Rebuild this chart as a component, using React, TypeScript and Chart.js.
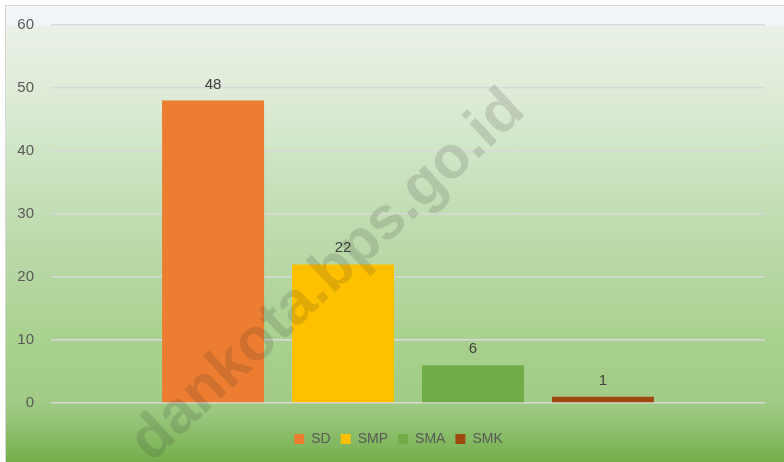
import React, { useEffect, useRef } from "react";
import { Chart, registerables } from "chart.js";

Chart.register(...registerables);

const CATEGORIES = [""];
const SERIES_NAMES = ["SD", "SMP", "SMA", "SMK"];
const SERIES_VALUES = [[48], [22], [6], [1]];
const SERIES_COLORS = ["#ED7D31", "#FFC000", "#70AD47", "#9E480E"];
const Y_MIN = 0;
const Y_MAX = 60;
const Y_STEP = 10;
const WATERMARK = "dankota.bps.go.id";

const FONT = "'Liberation Sans', Arial, sans-serif";

const dataLabelPlugin = {
  id: "dataLabels",
  afterDatasetsDraw(chart: any) {
    const ctx = chart.ctx;
    ctx.save();
    ctx.font = `15px ${FONT}`;
    ctx.fillStyle = "#404040";
    ctx.textAlign = "center";
    ctx.textBaseline = "alphabetic";
    chart.data.datasets.forEach((ds: any, i: number) => {
      const meta = chart.getDatasetMeta(i);
      meta.data.forEach((bar: any, j: number) => {
        ctx.fillText(String(ds.data[j]), bar.x, bar.y - 12);
      });
    });
    ctx.restore();
  },
};

const watermarkPlugin = {
  id: "watermark",
  afterDraw(chart: any) {
    const ctx = chart.ctx;
    ctx.save();
    ctx.translate(322, 270);
    ctx.rotate((-43 * Math.PI) / 180);
    ctx.font = `bold 60px ${FONT}`;
    ctx.fillStyle = "rgba(40,40,40,0.15)";
    ctx.textAlign = "center";
    ctx.textBaseline = "middle";
    ctx.fillText(WATERMARK, 0, 0);
    ctx.restore();
  },
};

const legendShiftPlugin = {
  id: "legendShift",
  afterLayout(chart: any) {
    const lg = chart.legend;
    if (lg) {
      lg.left += 13;
      lg.right += 13;
    }
  },
};

export default function App() {
  const ref = useRef<HTMLCanvasElement>(null);

  useEffect(() => {
    const canvas = ref.current;
    if (!canvas) return;
    const chart = new Chart(canvas, {
      type: "bar",
      data: {
        labels: CATEGORIES,
        datasets: SERIES_NAMES.map((name, i) => ({
          label: name,
          data: SERIES_VALUES[i],
          backgroundColor: SERIES_COLORS[i],
          borderWidth: 0,
          categoryPercentage: 0.728,
          barPercentage: 0.785,
        })),
      },
      options: {
        responsive: false,
        animation: false,
        layout: { padding: { top: 19, right: 19, left: 0, bottom: 6 } },
        scales: {
          x: {
            display: true,
            afterFit: (s: any) => {
              s.height = 19;
            },
            ticks: { display: false },
            grid: { display: false, drawTicks: false },
            border: { display: false },
          },
          y: {
            min: Y_MIN,
            max: Y_MAX,
            afterFit: (s: any) => {
              s.width = 45;
              s.paddingTop = 0;
              s.paddingBottom = 0;
            },
            ticks: {
              stepSize: Y_STEP,
              padding: 17,
              color: "#595959",
              font: { family: FONT, size: 15 },
            },
            grid: {
              color: "#d9d9d9",
              lineWidth: 1.5,
              drawTicks: false,
            },
            border: { display: false },
          },
        },
        plugins: {
          legend: {
            position: "bottom",
            labels: {
              boxWidth: 10,
              boxHeight: 10,
              padding: 10,
              color: "#595959",
              font: { family: FONT, size: 14 },
            },
          },
          tooltip: { enabled: false },
        },
      },
      plugins: [dataLabelPlugin, watermarkPlugin, legendShiftPlugin],
    });
    return () => chart.destroy();
  }, []);

  return (
    <div
      style={{
        position: "fixed",
        left: 5,
        top: 5,
        right: 0,
        bottom: 0,
        borderTop: "1px solid #d9d9d9",
        borderLeft: "1px solid #d9d9d9",
        background:
          "linear-gradient(to bottom, #f3f6fa 0px, #f1f5f6 19px, #eaf2e7 21px, #e0ecd9 80px, #d1e6c7 140px, #c3deb5 200px, #b5d7a2 270px, #a9d18f 330px, #a1cb86 395px, #97c57a 412px, #72ae4a 457px)",
        overflow: "hidden",
      }}
    >
      <canvas ref={ref} width={778} height={456} style={{ display: "block" }} />
    </div>
  );
}
